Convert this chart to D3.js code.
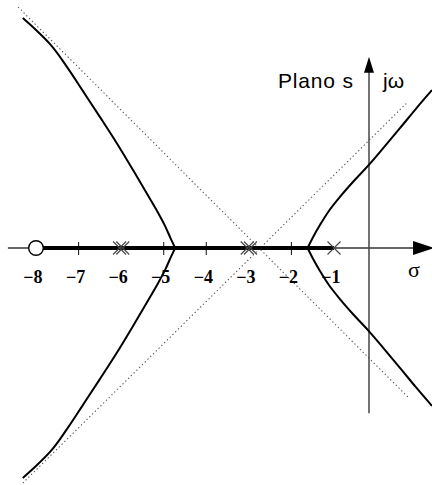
<!DOCTYPE html>
<html>
<head>
<meta charset="utf-8">
<script src="https://cdn.jsdelivr.net/npm/d3@7/dist/d3.min.js"></script>
<style>
  html, body { margin: 0; padding: 0; background: #fff; }
  svg { display: block; }
</style>
</head>
<body>
<div id="chart"></div>
<script>
// Root locus in the s-plane: poles (×), zero (○), real-axis locus and complex branches.
const tickValues = [-8, -7, -6, -5, -4, -3, -2, -1];
const tickLabels = ["−8", "−7", "−6", "−5", "−4", "−3", "−2", "−1"];
const poles = [-6, -6, -3, -3, -1];   // double poles at -6 and -3
const zeros = [-8];
const realLocus = [-8, -1];           // thick segment of the locus on the real axis

// Branch leaving the real axis near σ = -4.73 toward the ±135° asymptotes (upper half; mirrored below)
const leftBranchSigma = [-4.73, -4.83, -4.97, -5.13, -5.32, -5.72, -6.12, -6.50, -6.90, -7.27, -7.67, -8.00, -8.31];
const leftBranchOmega = [0, 0.21, 0.52, 0.82, 1.15, 1.83, 2.49, 3.08, 3.69, 4.25, 4.79, 5.12, 5.40];

// Branch leaving the real axis near σ = -1.62 toward the ±45° asymptotes (upper half; mirrored below)
const rightBranchSigma = [-1.62, -1.49, -1.33, -1.12, -0.83, -0.46, -0.03, 0.43, 0.89, 1.34, 1.80];
const rightBranchOmega = [0, 0.26, 0.54, 0.87, 1.20, 1.55, 1.93, 2.37, 2.82, 3.27, 3.71];

// Asymptotes through the centroid σ ≈ -2.75
const asymptote1Sigma = [-8.42, 1.11];
const asymptote1Omega = [5.66, -3.50];
const asymptote2Sigma = [-8.31, 1.11];
const asymptote2Omega = [-5.52, 3.43];

// Axis extents
const sigmaAxisExtent = [-8.66, 1.83];
const omegaAxisExtent = [-3.88, 4.49];

const W = 432, H = 485;
const svg = d3.select("#chart").append("svg").attr("width", W).attr("height", H);

const x = d3.scaleLinear().domain([-8, -1, 0]).range([36, 334, 369]);
const y = d3.scaleLinear().domain([0, 1]).range([248, 248 - 42.57]);

// asymptotes (dotted)
[[asymptote1Sigma, asymptote1Omega], [asymptote2Sigma, asymptote2Omega]].forEach(([s, w]) => {
  svg.append("line")
    .attr("x1", x(s[0])).attr("y1", y(w[0]))
    .attr("x2", x(s[1])).attr("y2", y(w[1]))
    .attr("stroke", "#555").attr("stroke-width", 1.1)
    .attr("stroke-dasharray", "1.3,2.6");
});

// real axis
svg.append("line")
  .attr("x1", x(sigmaAxisExtent[0])).attr("y1", y(0))
  .attr("x2", x(sigmaAxisExtent[1]) - 18).attr("y2", y(0))
  .attr("stroke", "#333").attr("stroke-width", 1.3);
svg.append("path")
  .attr("d", `M${x(sigmaAxisExtent[1]) + 1},${y(0)} L${x(sigmaAxisExtent[1]) - 20},${y(0) - 7} L${x(sigmaAxisExtent[1]) - 20},${y(0) + 7} Z`)
  .attr("fill", "#000");

// imaginary axis
svg.append("line")
  .attr("x1", x(0)).attr("y1", y(omegaAxisExtent[0]))
  .attr("x2", x(0)).attr("y2", y(omegaAxisExtent[1]) + 14)
  .attr("stroke", "#444").attr("stroke-width", 1.5);
svg.append("path")
  .attr("d", `M${x(0)},${y(omegaAxisExtent[1])} L${x(0) - 5},${y(omegaAxisExtent[1]) + 16} L${x(0) + 5},${y(omegaAxisExtent[1]) + 16} Z`)
  .attr("fill", "#000");

// tick marks where no pole or zero sits
tickValues.filter(v => !poles.includes(v) && !zeros.includes(v)).forEach(v => {
  svg.append("line")
    .attr("x1", x(v)).attr("x2", x(v))
    .attr("y1", y(0) - 6).attr("y2", y(0) + 7)
    .attr("stroke", "#222").attr("stroke-width", 1.1);
});

// thick real-axis locus
svg.append("line")
  .attr("x1", x(realLocus[0])).attr("y1", y(0))
  .attr("x2", x(realLocus[1])).attr("y2", y(0))
  .attr("stroke", "#000").attr("stroke-width", 4);

// complex branches, upper and mirrored lower halves
const line = d3.line().x(d => x(d[0])).y(d => y(d[1])).curve(d3.curveMonotoneY);
[[leftBranchSigma, leftBranchOmega], [rightBranchSigma, rightBranchOmega]].forEach(([s, w]) => {
  [1, -1].forEach(sign => {
    const pts = s.map((v, i) => [v, sign * w[i]]);
    if (sign < 0) pts.reverse();
    svg.append("path")
      .datum(pts)
      .attr("d", line)
      .attr("fill", "none").attr("stroke", "#000").attr("stroke-width", 2);
  });
});

// poles (× marks; repeated poles drawn doubled)
const poleCounts = d3.rollup(poles, v => v.length, d => d);
const r = 6.5;
poleCounts.forEach((count, p) => {
  const offsets = count > 1 ? [-1.6, 1.6] : [0];
  offsets.forEach(o => {
    const cx = x(p) + o, cy = y(0);
    svg.append("path")
      .attr("d", `M${cx - r},${cy - r} L${cx + r},${cy + r} M${cx - r},${cy + r} L${cx + r},${cy - r}`)
      .attr("stroke", "#444").attr("stroke-width", 1.1).attr("fill", "none");
  });
});

// zeros (○)
zeros.forEach(z => {
  svg.append("circle")
    .attr("cx", x(z)).attr("cy", y(0)).attr("r", 7.3)
    .attr("fill", "#fff").attr("stroke", "#000").attr("stroke-width", 1.4);
});

// tick labels
tickValues.forEach((v, i) => {
  svg.append("text")
    .attr("x", x(v) - 3).attr("y", y(0) + 35)
    .attr("text-anchor", "middle")
    .attr("font-family", "Liberation Serif, serif")
    .attr("font-weight", "bold").attr("font-size", 18)
    .text(tickLabels[i]);
});

// axis names
svg.append("text")
  .attr("x", 414).attr("y", y(0) + 29)
  .attr("text-anchor", "middle")
  .attr("font-family", "Liberation Serif, serif")
  .attr("font-size", 22)
  .text("σ");
svg.append("text")
  .attr("x", 278).attr("y", 88)
  .attr("font-family", "Liberation Sans, Arial, sans-serif")
  .attr("font-size", 21)
  .attr("textLength", 75)
  .text("Plano s");
svg.append("text")
  .attr("x", 383).attr("y", 88)
  .attr("font-family", "Liberation Sans, Arial, sans-serif")
  .attr("font-size", 21)
  .text("jω");
</script>
</body>
</html>
